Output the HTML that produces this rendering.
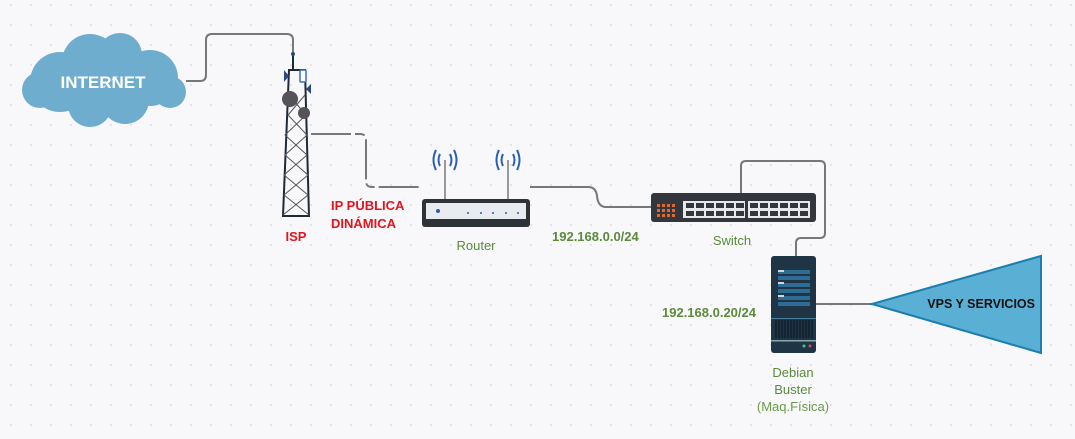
<!DOCTYPE html>
<html><head><meta charset="utf-8"><style>
html,body{margin:0;padding:0;background:#f8f8fb;}
svg{display:block;}
text{font-family:"Liberation Sans","DejaVu Sans",sans-serif;}
</style></head><body>
<svg width="1075" height="439" viewBox="0 0 1075 439" xmlns="http://www.w3.org/2000/svg">
<defs>
<pattern id="dots" width="20" height="20" patternUnits="userSpaceOnUse" x="10" y="4">
<circle cx="1" cy="1" r="1" fill="#dcdce2"/></pattern>
</defs>
<rect width="1075" height="439" fill="#f8f8fb"/>
<rect width="1075" height="439" fill="url(#dots)"/>

<!-- connectors -->
<g fill="none" stroke="#777" stroke-width="2">
<path d="M186 81 H200 Q206 81 206 75 V40 Q206 34 212 34 H287 Q293 34 293 40 V53"/>
<path d="M311 134 H360 Q366 134 366 140 V181 Q366 187 372 187 H420" stroke-dasharray="40 4 10 4"/>
<path d="M530 187 H588 Q596 187 597 196 Q598 207 606 207 H651"/>
<path d="M741 193 V166 Q741 161 746 161 H820 Q825 161 825 166 V233 Q825 238 820 238 H801 Q796 238 796 243 V257"/>
<path d="M816 304 H872"/>
</g>

<!-- cloud -->
<g fill="#6fadcf">
<circle cx="60" cy="82" r="30"/>
<circle cx="90" cy="62" r="28"/>
<circle cx="120" cy="55" r="22"/>
<circle cx="150" cy="78" r="28"/>
<circle cx="170" cy="92" r="16"/>
<circle cx="125" cy="100" r="24"/>
<circle cx="90" cy="105" r="22"/>
<circle cx="40" cy="90" r="18"/>
</g>
<text x="103" y="88" font-size="17" font-weight="bold" fill="#fff" text-anchor="middle">INTERNET</text>

<!-- tower -->
<g stroke="#1e2a35" stroke-width="2" fill="none">
<line x1="293" y1="54" x2="293" y2="70"/>
<path d="M289 70 H305 L309 216 H283 Z"/>
</g>
<g stroke="#555" stroke-width="1" fill="none">
<path d="M289 95 L306 115 L285 135 L307 155 L284 175 L308 195 L283 215"/>
<path d="M305 95 L288 115 L307 135 L285 155 L308 175 L284 195 L309 215"/>
</g>
<circle cx="293" cy="54" r="2" fill="#2a4a80"/>
<rect x="300" y="70" width="6" height="12" rx="1" fill="#fff" stroke="#3a6cc0" stroke-width="1.5"/>
<path d="M284 70 L289 76 L284 82 Z" fill="#2a4a80"/>
<path d="M311 84 L306 89 L311 94 Z" fill="#2a4a80"/>
<circle cx="290" cy="99" r="8" fill="#555259"/>
<circle cx="304" cy="113" r="6" fill="#555259"/>
<text x="296" y="241" font-size="13" font-weight="bold" fill="#e5141c" text-anchor="middle">ISP</text>
<text x="331" y="210" font-size="13" font-weight="bold" fill="#e5141c">IP PÚBLICA</text>
<text x="331" y="228" font-size="13" font-weight="bold" fill="#e5141c">DINÁMICA</text>

<!-- router -->
<g stroke="#999" stroke-width="2"><line x1="445" y1="160" x2="445" y2="200"/><line x1="508" y1="160" x2="508" y2="200"/></g>
<g fill="none" stroke="#2a5fb0" stroke-width="2">
<path d="M440 154 Q437 160 440 166"/><path d="M450 154 Q453 160 450 166"/>
<path d="M436 150 Q431 160 436 170"/><path d="M454 150 Q459 160 454 170"/>
<path d="M503 154 Q500 160 503 166"/><path d="M513 154 Q516 160 513 166"/>
<path d="M499 150 Q494 160 499 170"/><path d="M517 150 Q522 160 517 170"/>
</g>
<rect x="422" y="199" width="108" height="28" rx="3" fill="#2e3338"/>
<rect x="426" y="203" width="100" height="16" fill="#e8ecf0"/>
<circle cx="438" cy="211" r="2" fill="#2a5fb0"/>
<g fill="#2a5fb0"><circle cx="468" cy="213" r="1"/><circle cx="481" cy="213" r="1"/><circle cx="493" cy="213" r="1"/><circle cx="506" cy="213" r="1"/><circle cx="518" cy="213" r="1"/></g>
<text x="476" y="250" font-size="13" fill="#5a8a3a" text-anchor="middle">Router</text>
<text x="552" y="241" font-size="13" font-weight="bold" fill="#5a8a3a">192.168.0.0/24</text>

<!-- switch -->
<rect x="651" y="193" width="165" height="29" rx="3" fill="#33373d"/>
<g fill="#e2692e">
<rect x="657" y="204" width="3" height="3"/><rect x="662" y="204" width="3" height="3"/><rect x="667" y="204" width="3" height="3"/><rect x="672" y="204" width="3" height="3"/>
<rect x="657" y="209" width="3" height="3"/><rect x="662" y="209" width="3" height="3"/><rect x="667" y="209" width="3" height="3"/><rect x="672" y="209" width="3" height="3"/>
<rect x="657" y="214" width="3" height="3"/><rect x="662" y="214" width="3" height="3"/><rect x="667" y="214" width="3" height="3"/><rect x="672" y="214" width="3" height="3"/>
</g>
<rect x="683" y="201" width="62" height="17" fill="#e8e8ea"/>
<rect x="748" y="201" width="62" height="17" fill="#e8e8ea"/>
<g fill="#33373d">
<rect x="686" y="203" width="8" height="5"/><rect x="696" y="203" width="8" height="5"/><rect x="706" y="203" width="8" height="5"/><rect x="716" y="203" width="8" height="5"/><rect x="726" y="203" width="8" height="5"/><rect x="736" y="203" width="8" height="5"/>
<rect x="686" y="211" width="8" height="5"/><rect x="696" y="211" width="8" height="5"/><rect x="706" y="211" width="8" height="5"/><rect x="716" y="211" width="8" height="5"/><rect x="726" y="211" width="8" height="5"/><rect x="736" y="211" width="8" height="5"/>
<rect x="750" y="203" width="8" height="5"/><rect x="760" y="203" width="8" height="5"/><rect x="770" y="203" width="8" height="5"/><rect x="780" y="203" width="8" height="5"/><rect x="790" y="203" width="8" height="5"/><rect x="800" y="203" width="8" height="5"/>
<rect x="750" y="211" width="8" height="5"/><rect x="760" y="211" width="8" height="5"/><rect x="770" y="211" width="8" height="5"/><rect x="780" y="211" width="8" height="5"/><rect x="790" y="211" width="8" height="5"/><rect x="800" y="211" width="8" height="5"/>
</g>
<text x="732" y="245" font-size="13" fill="#5a8a3a" text-anchor="middle">Switch</text>

<!-- server -->
<rect x="771" y="256" width="45" height="97" rx="3" fill="#1f3546"/>
<g fill="#2e6c95"><rect x="778" y="270" width="32" height="4"/><rect x="778" y="276" width="32" height="4"/><rect x="778" y="283" width="32" height="4"/><rect x="778" y="289" width="32" height="4"/><rect x="778" y="296" width="32" height="4"/><rect x="778" y="302" width="32" height="4"/></g>
<g fill="#cfd8e0"><rect x="778" y="270" width="6" height="2"/><rect x="778" y="282" width="6" height="2"/><rect x="778" y="295" width="6" height="2"/></g>
<rect x="771" y="318" width="45" height="1" fill="#4a7fa0"/>
<g stroke="#0f1a22" stroke-width="1.2">
<line x1="776" y1="320" x2="776" y2="338"/><line x1="779" y1="320" x2="779" y2="338"/><line x1="782" y1="320" x2="782" y2="338"/><line x1="785" y1="320" x2="785" y2="338"/><line x1="788" y1="320" x2="788" y2="338"/><line x1="791" y1="320" x2="791" y2="338"/><line x1="794" y1="320" x2="794" y2="338"/><line x1="797" y1="320" x2="797" y2="338"/><line x1="800" y1="320" x2="800" y2="338"/><line x1="803" y1="320" x2="803" y2="338"/><line x1="806" y1="320" x2="806" y2="338"/><line x1="809" y1="320" x2="809" y2="338"/><line x1="812" y1="320" x2="812" y2="338"/>
</g>
<rect x="771" y="340" width="45" height="1.5" fill="#8aa"/>
<circle cx="804" cy="346" r="1.5" fill="#3c9"/><circle cx="810" cy="346" r="1.5" fill="#d45"/>
<text x="662" y="317" font-size="13" font-weight="bold" fill="#5a8a3a">192.168.0.20/24</text>
<text x="793" y="377" font-size="13" fill="#5a8a3a" text-anchor="middle">Debian</text>
<text x="793" y="394" font-size="13" fill="#5a8a3a" text-anchor="middle">Buster</text>
<text x="793" y="411" font-size="13" fill="#6a9a4a" text-anchor="middle">(Maq.Física)</text>

<!-- triangle -->
<polygon points="872,304 1041,256 1041,353" fill="#5aafd5" stroke="#1a7eb0" stroke-width="2"/>
<text x="1035" y="308" font-size="12.5" font-weight="bold" fill="#111" text-anchor="end">VPS Y SERVICIOS</text>
</svg>
</body></html>
